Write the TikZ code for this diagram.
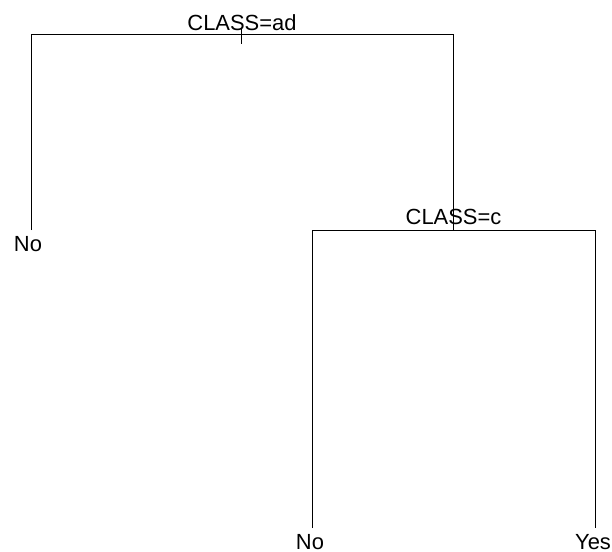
\documentclass[tikz,border=0pt]{standalone}
\usepackage{fontspec}
\setmainfont{Liberation Sans}
\begin{document}
\begin{tikzpicture}[x=1bp,y=-1bp,
  lab/.style={font=\fontsize{22}{26}\selectfont, inner sep=0pt, anchor=base},
  edge/.style={line width=1bp, black, line cap=butt}]
\useasboundingbox (0,0) rectangle (612,552);
% root split
\coordinate (rootL) at (31,35);
\coordinate (rootR) at (453.5,35);
\coordinate (tickT) at (241.7,28.3);
\coordinate (tickB) at (241.7,44.5);
% second split
\coordinate (cL) at (312.5,230);
\coordinate (cR) at (595,230);
\coordinate (cM) at (453.5,230);
% leaves
\coordinate (leaf1) at (31,230);
\coordinate (leaf2) at (312.5,528);
\coordinate (leaf3) at (595,528);
% labels
\node[lab] (root) at (242,30.7) {CLASS=ad};
\node[lab] (split2) at (453.5,225) {CLASS=c};
\node[lab] (no1) at (28,251.7) {No};
\node[lab] (no2) at (310,549.5) {No};
\node[lab] (yes) at (593,549.5) {Yes};
% branches
\draw[edge] (leaf1) -- (rootL) -- (rootR) -- (cM);
\draw[edge] (tickT) -- (tickB);
\draw[edge] (leaf2) -- (cL) -- (cR) -- (leaf3);
\end{tikzpicture}
\end{document}
